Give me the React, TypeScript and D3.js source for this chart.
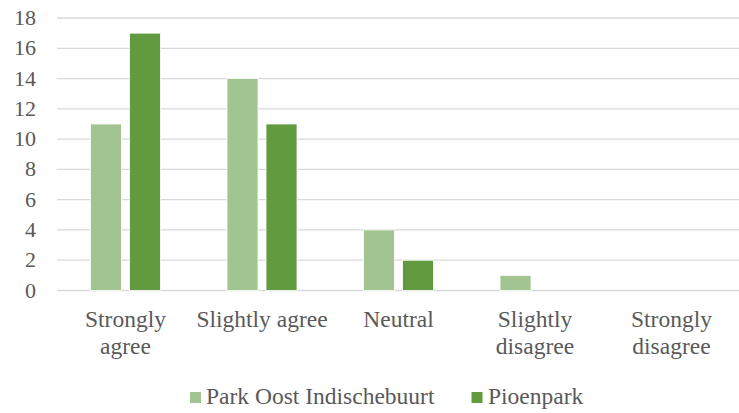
import React from "react";
import * as d3 from "d3";

const categories: string[][] = [
  ["Strongly", "agree"],
  ["Slightly agree"],
  ["Neutral"],
  ["Slightly", "disagree"],
  ["Strongly", "disagree"],
];
const seriesNames = ["Park Oost Indischebuurt", "Pioenpark"];
const parkOost = [11, 14, 4, 1, 0];
const pioenpark = [17, 11, 2, 0, 0];
const yTicks = [0, 2, 4, 6, 8, 10, 12, 14, 16, 18];

const W = 739;
const H = 413;
const COLORS = ["#A1C490", "#629A3F"];
const TEXT = "#595959";
const FONT = '"Times New Roman", "Liberation Serif", Tinos, serif';

export default function App() {
  const keys = categories.map((c) => c.join(" "));
  const x0 = d3
    .scaleBand<string>()
    .domain(keys)
    .range([57.25, 739.75])
    .paddingInner(0.487)
    .paddingOuter(0.2435);
  const x1 = d3
    .scaleBand<string>()
    .domain(seriesNames)
    .range([0, x0.bandwidth()])
    .paddingInner(0.205);
  const y = d3.scaleLinear().domain([0, 18]).range([290.5, 18]);
  const values = [parkOost, pioenpark];

  return (
    <div style={{ position: "absolute", left: 0, top: 0, width: W, height: H, fontFamily: FONT }}>
      <style>{`.chart text { font-family: ${FONT}; }`}</style>
      <svg className="chart" width={W} height={H} style={{ display: "block" }}>
        {yTicks.map((t) => (
          <line key={`g${t}`} x1={57} x2={739} y1={y(t)} y2={y(t)} stroke="#D9D9D9" strokeWidth={1.3} />
        ))}
        {yTicks.map((t) => (
          <text key={`t${t}`} x={36} y={y(t) + 7} textAnchor="end" fontSize={22} fill={TEXT}>
            {t}
          </text>
        ))}
        {keys.map((k, ci) =>
          seriesNames.map((s, si) => {
            const v = values[si][ci];
            if (v <= 0) return null;
            return (
              <rect
                key={`${k}-${s}`}
                x={(x0(k) ?? 0) + (x1(s) ?? 0)}
                y={y(v)}
                width={x1.bandwidth()}
                height={y(0) - y(v)}
                fill={COLORS[si]}
                stroke="#fff"
                strokeWidth={0.8}
              />
            );
          })
        )}
        {categories.map((lines, ci) => {
          const cx = (x0(keys[ci]) ?? 0) + x0.bandwidth() / 2;
          return lines.map((ln, li) => (
            <text
              key={`${ci}-${li}`}
              x={cx}
              y={327 + li * 26.5}
              textAnchor="middle"
              fontSize={23.5}
              fill={TEXT}
            >
              {ln}
            </text>
          ));
        })}
        <rect x={190} y={392} width={11} height={11} fill={COLORS[0]} />
        <text x={206} y={404} fontSize={23.5} fill={TEXT}>
          {seriesNames[0]}
        </text>
        <rect x={471.5} y={392} width={11} height={11} fill={COLORS[1]} />
        <text x={488} y={404} fontSize={23.5} fill={TEXT}>
          {seriesNames[1]}
        </text>
      </svg>
    </div>
  );
}
